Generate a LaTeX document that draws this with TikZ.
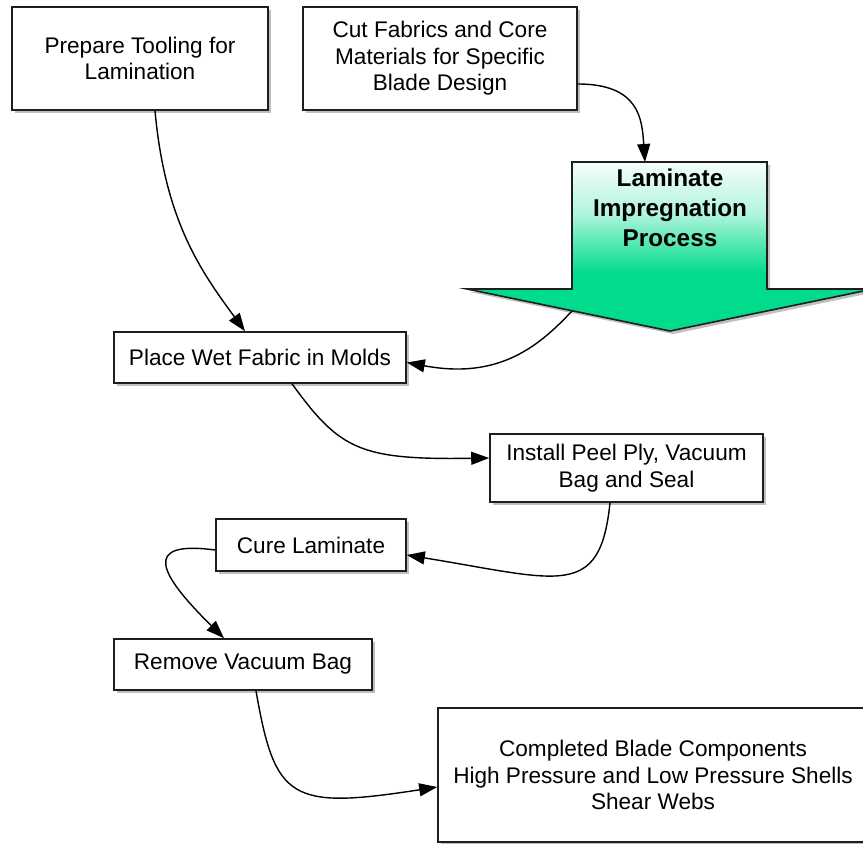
\documentclass[tikz,border=0pt]{standalone}
\usepackage{fontspec}
\setmainfont{Liberation Sans}
\usetikzlibrary{arrows.meta,shadows}
\definecolor{lamgreen}{RGB}{0,220,140}
\definecolor{boxline}{RGB}{30,30,30}
\pgfdeclareverticalshading{lamshade}{100bp}{color(0bp)=(lamgreen); color(42bp)=(lamgreen); color(50bp)=(lamgreen!70!white); color(60bp)=(lamgreen!30!white); color(75bp)=(lamgreen!4!white); color(100bp)=(white)}
\begin{document}
\begin{tikzpicture}[x=1pt,y=-1pt,
  procbox/.style={draw=boxline, line width=1.6pt, fill=white, rectangle, inner sep=0pt, align=center,
    font=\fontsize{22.6}{26.4}\selectfont,
    drop shadow={shadow xshift=3pt, shadow yshift=-3pt, opacity=0.25, fill=black}},
  conn/.style={draw=black, line width=1.4pt, -{Triangle[length=18pt,width=13pt]}},
  lamtxt/.style={font=\bfseries\fontsize{24.3}{30}\selectfont, align=center, inner sep=0pt}
]
\useasboundingbox (0,0) rectangle (863,844);
\clip (0,0) rectangle (863,844);
\fill[white] (0,0) rectangle (863,844);

% green process arrow
\path[draw=boxline, line width=1.6pt, shading=lamshade,
  drop shadow={shadow xshift=3pt, shadow yshift=-3pt, opacity=0.25, fill=black}]
  (572,162) -- (767,162) -- (767,289) -- (873,289) -- (670,331) -- (467,289) -- (572,289) -- cycle;
\node[lamtxt] (lam) at (670,208) {Laminate\\Impregnation\\Process};
\coordinate (lamtop) at (645,162);
\coordinate (lamout) at (572,311);

% boxes
\node[procbox, minimum width=256pt, minimum height=103pt] (prep) at (140,58.5) {Prepare Tooling for\\Lamination};
\node[procbox, minimum width=274pt, minimum height=103pt] (cut) at (440,58.5) {Cut Fabrics and Core\\Materials for Specific\\Blade Design};
\node[procbox, minimum width=292pt, minimum height=51pt] (place) at (260,357.5) {Place Wet Fabric in Molds};
\node[procbox, minimum width=273pt, minimum height=68pt] (inst) at (626.5,468) {Install Peel Ply, Vacuum\\Bag and Seal};
\node[procbox, minimum width=190pt, minimum height=52pt] (cure) at (311,545) {Cure Laminate};
\node[procbox, minimum width=258pt, minimum height=51pt] (remove) at (243,664.5) {Remove Vacuum Bag};
\node[procbox, minimum width=430pt, minimum height=134pt] (done) at (653,775) {Completed Blade Components\\High Pressure and Low Pressure Shells\\Shear Webs};

% connectors
\draw[conn] ([xshift=15pt]prep.south) .. controls (165,220) and (200,270) .. ([xshift=-15pt]place.north);
\draw[conn] ([yshift=-25.5pt]cut.east) .. controls (640,84) and (642,120) .. (lamtop);
\draw[conn] (lamout) .. controls (540,345) and (500,380) .. ([yshift=-5pt]place.east);
\draw[conn] ([xshift=32pt]place.south) .. controls (340,450) and (360,460) .. ([yshift=10pt]inst.west);
\draw[conn] ([xshift=-16.5pt]inst.south) .. controls (600,600) and (560,580) .. ([yshift=-10pt]cure.east);
\draw[conn] ([yshift=-5pt]cure.west) .. controls (140,540) and (160,575) .. ([xshift=-19pt]remove.north);
\draw[conn] ([xshift=13pt]remove.south) .. controls (275,800) and (290,810) .. ([yshift=-12pt]done.west);
\end{tikzpicture}
\end{document}
